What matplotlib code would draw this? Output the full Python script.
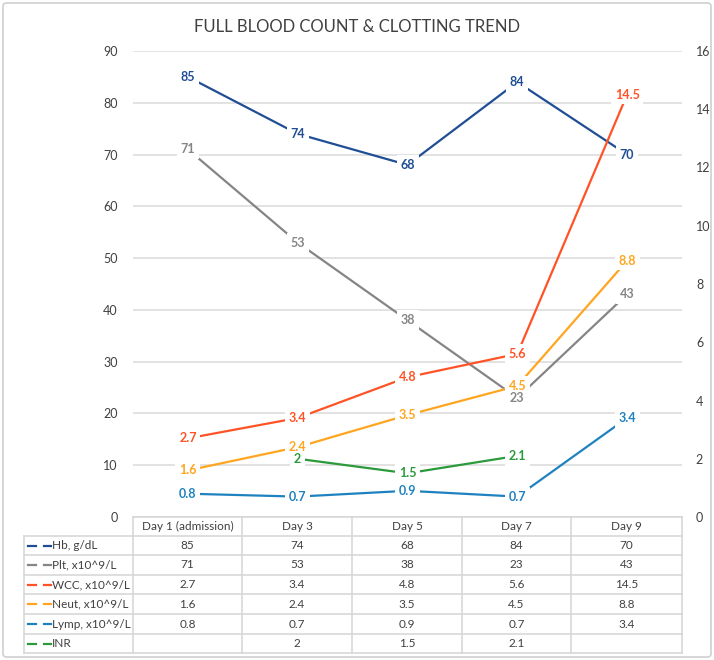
import numpy as np
import matplotlib
matplotlib.use("Agg")
import matplotlib.pyplot as plt
from matplotlib.lines import Line2D
from matplotlib.patches import FancyBboxPatch

plt.rcParams["font.family"] = ["Lato", "DejaVu Sans"]

days = ["Day 1 (admission)", "Day 3", "Day 5", "Day 7", "Day 9"]

hb = [85, 74, 68, 84, 70]
plt_count = [71, 53, 38, 23, 43]
wcc = [2.7, 3.4, 4.8, 5.6, 14.5]
neut = [1.6, 2.4, 3.5, 4.5, 8.8]
lymp = [0.8, 0.7, 0.9, 0.7, 3.4]
inr = [None, 2, 1.5, 2.1, None]

names = ["Hb, g/dL", "Plt, x10^9/L", "WCC, x10^9/L",
         "Neut, x10^9/L", "Lymp, x10^9/L", "INR"]
values = [hb, plt_count, wcc, neut, lymp, inr]
colors = ["#1F4E95", "#858585", "#FF5327", "#FFA51F", "#1F82C0", "#2A9A3A"]
right_axis = [False, False, True, True, True, True]

W, H = 714, 660
fig = plt.figure(figsize=(W / 100, H / 100), dpi=100)


def fx(px):
    return px / W


def fy(py):
    return 1 - py / H


# plot area
left, right, top, bottom = 133, 682, 51, 517
ax = fig.add_axes([fx(left), fy(bottom), fx(right - left), fy(top) - fy(bottom)])
ax2 = ax.twinx()

ax.set_ylim(0, 90)
ax.set_yticks(range(0, 91, 10))
ax2.set_ylim(0, 16)
ax2.set_yticks(range(0, 17, 2))
ax.set_xlim(0.5, 5.5)
ax.set_xticks([])

for a in (ax, ax2):
    for s in a.spines.values():
        s.set_visible(False)
    a.tick_params(length=0, labelsize=9, labelcolor="#404040")
ax.tick_params(axis="y", pad=11)
ax2.tick_params(axis="y", pad=10)
ax.yaxis.grid(True, color="#DADADA", linewidth=1.1)
ax.set_axisbelow(True)

x = np.arange(1, 6)
for vals, col, on_right in zip(values, colors, right_axis):
    src = ax2 if on_right else ax
    xs = [xi for xi, v in zip(x, vals) if v is not None]
    ys = [v for v in vals if v is not None]
    ax2.plot(xs, ys, color=col, linewidth=1.6, zorder=2, transform=src.transData)
    for xi, v in zip(xs, ys):
        # white knockout behind the label, then the label itself on top
        ax2.text(xi, v, f"{v:g}", color="none", fontsize=9, fontweight="bold",
                 ha="center", va="center", zorder=4, transform=src.transData,
                 bbox=dict(boxstyle="square,pad=0.3", fc="white", ec="none"))
        ax2.text(xi, v, f"{v:g}", color=col, fontsize=9, fontweight="bold",
                 ha="center", va="center", zorder=6, transform=src.transData)

# title
fig.text(0.5, fy(27), "FULL BLOOD COUNT & CLOTTING TREND", ha="center",
         va="center", fontsize=12, color="#404040")

# data table
tbl_left = 24
row_top = [517, 536, 555, 575, 594, 614, 634, 653]
col_edges = [133, 242, 352, 462, 571, 682]
grid_col = "#D5D5D5"


def hline(y, x0, x1):
    fig.add_artist(Line2D([fx(x0), fx(x1)], [fy(y), fy(y)], color=grid_col, lw=1.1))


def vline(xp, y0, y1):
    fig.add_artist(Line2D([fx(xp), fx(xp)], [fy(y0), fy(y1)], color=grid_col, lw=1.1))


hline(row_top[0], col_edges[0], col_edges[-1])
for y in row_top[1:]:
    hline(y, tbl_left, col_edges[-1])
vline(tbl_left, row_top[1], row_top[-1])
for xp in col_edges:
    vline(xp, row_top[0], row_top[-1])

centers = [(col_edges[i] + col_edges[i + 1]) / 2 for i in range(5)]
hdr_y = (row_top[0] + row_top[1]) / 2
for cx, d in zip(centers, days):
    fig.text(fx(cx), fy(hdr_y), d, ha="center", va="center",
             fontsize=8.5, color="#404040")

for r, (name, vals, col) in enumerate(zip(names, values, colors)):
    cy = (row_top[r + 1] + row_top[r + 2]) / 2
    for a0, a1 in [(28, 36), (44, 51)]:
        fig.add_artist(Line2D([fx(a0), fx(a1)], [fy(cy), fy(cy)], color=col, lw=1.6))
    fig.text(fx(52), fy(cy), name, ha="left", va="center", fontsize=8.5, color="#404040")
    for cx, v in zip(centers, vals):
        if v is not None:
            fig.text(fx(cx), fy(cy), f"{v:g}", ha="center", va="center",
                     fontsize=8.5, color="#404040")

# outer chart border
fig.add_artist(FancyBboxPatch((fx(3), fy(657)), fx(708), fy(3) - fy(657),
                              boxstyle="round,pad=0,rounding_size=0.005",
                              transform=fig.transFigure, fc="none",
                              ec="#D0D0D0", lw=1.2))

fig.savefig("out.png", dpi=100)
